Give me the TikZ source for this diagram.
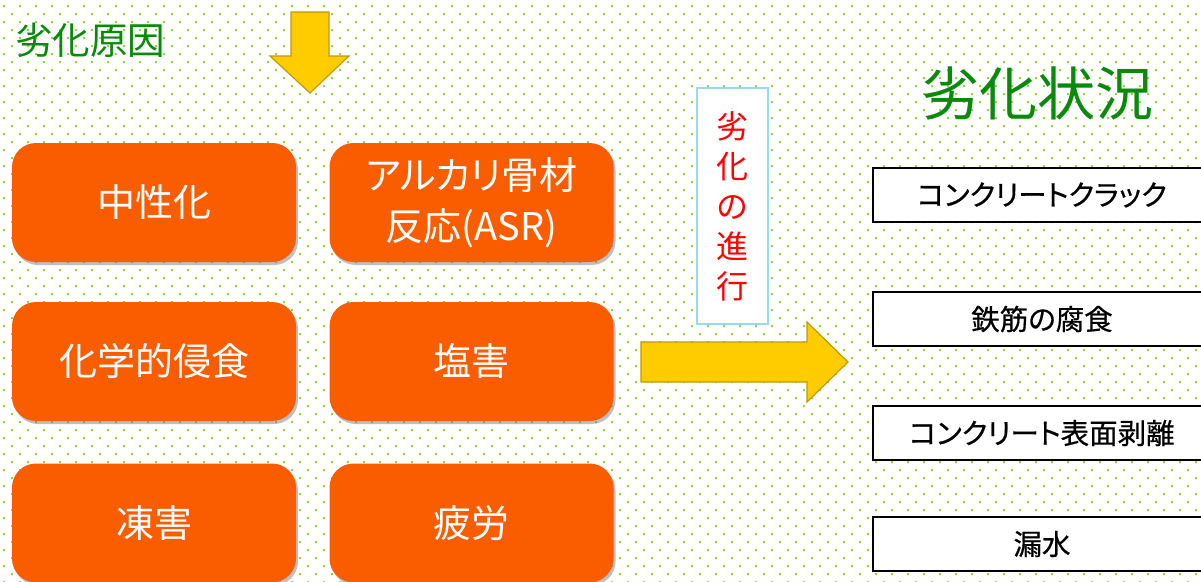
\documentclass[tikz,border=0pt]{standalone}
\usepackage{fontspec}
\setmainfont{Noto Sans CJK JP}[RawFeature=+palt]
\newfontfamily\resfont{Noto Sans CJK JP}[RawFeature=+palt,FakeBold=0.6]
\usepackage{xcolor}
\definecolor{oorange}{HTML}{FA5C00}
\definecolor{ggreen}{HTML}{0A8A0A}
\definecolor{ddot}{HTML}{92D050}
\definecolor{yyellow}{HTML}{FFCC00}
\definecolor{yyedge}{HTML}{BF9A00}
\definecolor{bblue}{HTML}{9AD8F5}
\usetikzlibrary{shadows}

\begin{document}
\begin{tikzpicture}[x=1pt,y=-1pt,
		cause/.style={fill=oorange, rounded corners=24pt, minimum width=284pt, minimum height=119pt, text=white, align=center, font=\fontsize{38}{51}\selectfont, drop shadow={shadow xshift=2pt, shadow yshift=-3pt, fill=black!50}},
		result/.style={draw, line width=1.6pt, fill=white, minimum width=338pt, minimum height=54pt, font=\resfont\fontsize{28.5}{34}\selectfont},
		bigarrow/.style={fill=yyellow, draw=yyedge, line width=1.2pt}]
				\useasboundingbox (0,0) rectangle (1201,581);
				\clip (0,0) rectangle (1201,581);
				\fill[white] (0,0) rectangle (1201,581);
				\foreach \y in {6,22,...,582} {
					\fill[ddot] \foreach \x in {4,20,...,1204} {(\x-1,\y-1) rectangle +(2,2) (\x+7,\y+7) rectangle +(2,2)};
				}
				% titles
				\node[text=ggreen, font=\fontsize{37.5}{44}\selectfont] (t0) at (90,40) {劣化原因};
				\node[text=ggreen, font=\fontsize{58}{64}\selectfont] (t1) at (1037,93) {劣化状況};
				% arrows
				\draw[bigarrow] (291,12) -- (329,12) -- (329,56) -- (349,56) -- (310,93) -- (270,56) -- (291,56) -- cycle;
				\draw[bigarrow] (641,342) -- (807,342) -- (807,322) -- (848,362) -- (807,402) -- (807,382) -- (641,382) -- cycle;
				% causes
				\node[cause] (c0) at (154,202.5) {中性化};
				\node[cause] (c1) at (471.5,202.5) {アルカリ骨材\\反応(ASR)};
				\node[cause] (c2) at (154,361.5) {化学的侵食};
				\node[cause] (c3) at (471.5,361.5) {塩害};
				\node[cause] (c4) at (154,523) {凍害};
				\node[cause] (c5) at (471.5,523) {疲労};
				% progress
				\node[draw=bblue, line width=1.5pt, fill=white, minimum width=71pt, minimum height=236pt, text=red, align=center, font=\fontsize{32}{40}\selectfont] (p0) at (732.5,206) {劣\\化\\の\\進\\行};
				% results
				\node[result] (r0) at (1042,195) {コンクリートクラック};
				\node[result] (r1) at (1042,319) {鉄筋の腐食};
				\node[result] (r2) at (1042,433) {コンクリート表面剥離};
				\node[result] (r3) at (1042,544) {漏水};
			\end{tikzpicture}
\end{document}
